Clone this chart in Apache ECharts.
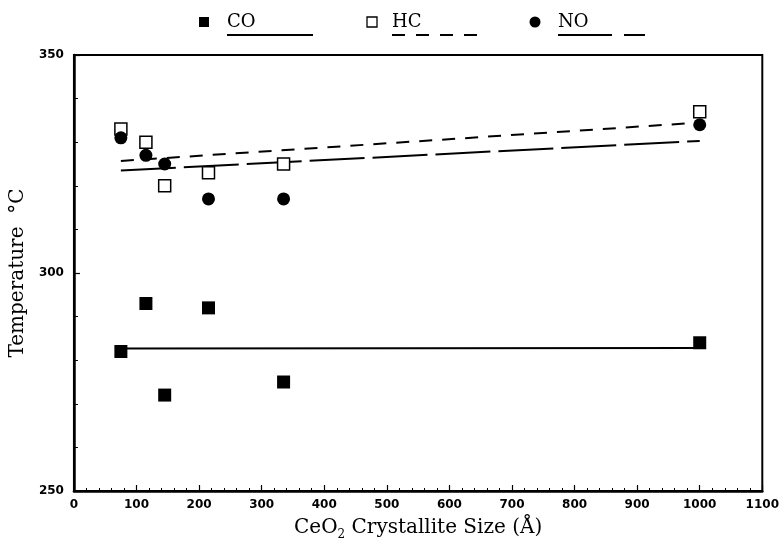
<!DOCTYPE html>
<html>
<head>
<meta charset="utf-8">
<script src="https://cdn.jsdelivr.net/npm/echarts@6/dist/echarts.min.js"></script>
<style>
  html, body { margin: 0; padding: 0; background: #fff; }
  #chart { width: 782px; height: 550px; }
</style>
</head>
<body>
<div id="chart"></div>
<script>
// crystallite sizes (Å)
const sizes = [75, 115, 145, 215, 335, 1000];
// light-off temperatures (°C)
const coTemp = [282, 293, 272, 292, 275, 284];
const hcTemp = [333, 330, 320, 323, 325, 337];
const noTemp = [331, 327, 325, 317, 317, 334];
// fitted lines, read at their ends
const fitX = [75, 1000];
const coFit = [282.7, 282.8];
const hcFit = [325.7, 334.5];
const noFit = [323.5, 330.3];

const pairs = (xs, ys) => xs.map((x, i) => [x, ys[i]]);

let myChart = echarts.init(document.getElementById('chart'));

const serif = '"DejaVu Serif", "Liberation Serif", serif';
const tickFont = { fontFamily: 'DejaVu Sans', fontWeight: 'bold', fontSize: 12, color: '#000', formatter: v => String(v) };

// legend drawn by hand so the label can sit over its line sample
function legendItem(sx, symbol, label, tx, lineEnd, dash) {
  const items = [];
  if (symbol === 'circle') {
    items.push({ type: 'circle', shape: { cx: sx, cy: 22, r: 5.5 }, style: { fill: '#000' } });
  } else {
    items.push({
      type: 'rect', shape: { x: sx - 5, y: 17, width: 10, height: 10 },
      style: symbol === 'filled' ? { fill: '#000' } : { fill: '#fff', stroke: '#000', lineWidth: 1.3 }
    });
  }
  items.push({ type: 'text', x: tx, y: 13, style: { text: label, font: '18px ' + serif, fill: '#000' } });
  items.push({
    type: 'line', shape: { x1: tx, y1: 35, x2: lineEnd, y2: 35 },
    style: { stroke: '#000', lineWidth: 2, lineDash: dash }
  });
  return items;
}

const option = {
  animation: false,
  backgroundColor: '#fff',
  grid: { left: 73, right: 15, top: 55, bottom: 59, show: true, borderColor: '#000', borderWidth: 2 },
  xAxis: {
    type: 'value', min: 0, max: 1100, interval: 100,
    name: 'CeO{sub|2} Crystallite Size (\u00c5)',
    nameLocation: 'middle', nameGap: 24,
    nameTextStyle: {
      fontFamily: serif, fontSize: 20, color: '#000',
      rich: { sub: { fontFamily: serif, fontSize: 12, color: '#000', padding: [14, 0, 0, 0] } }
    },
    axisLine: { show: true, lineStyle: { color: '#000', width: 2.5 } },
    axisTick: { show: true, inside: true, length: 6, lineStyle: { color: '#000', width: 1.2 } },
    minorTick: { show: true, splitNumber: 5, length: 3, lineStyle: { color: '#000', width: 1 } },
    axisLabel: Object.assign({ margin: 8 }, tickFont),
    splitLine: { show: false }
  },
  yAxis: {
    type: 'value', min: 250, max: 350, interval: 50,
    name: 'Temperature  \u00b0C',
    nameLocation: 'middle', nameGap: 37,
    nameTextStyle: { fontFamily: serif, fontSize: 20, color: '#000' },
    axisLine: { show: true, lineStyle: { color: '#000', width: 2.5 } },
    axisTick: { show: true, inside: true, length: 6, lineStyle: { color: '#000', width: 1.2 } },
    minorTick: { show: true, splitNumber: 5, length: 4, lineStyle: { color: '#000', width: 1 } },
    axisLabel: Object.assign({ margin: 10 }, tickFont),
    splitLine: { show: false }
  },
  graphic: [].concat(
    legendItem(204, 'filled', 'CO', 227, 313, null),
    legendItem(372, 'open', 'HC', 392, 480, [13, 11]),
    legendItem(535, 'circle', 'NO', 558, 645, [54, 12])
  ),
  series: [
    {
      name: 'CO fit', type: 'line', data: pairs(fitX, coFit), showSymbol: false, z: 2,
      lineStyle: { color: '#000', width: 2 }
    },
    {
      name: 'HC fit', type: 'line', data: pairs(fitX, hcFit), showSymbol: false, z: 2,
      lineStyle: { color: '#000', width: 2, type: [13, 10] }
    },
    {
      name: 'NO fit', type: 'line', data: pairs(fitX, noFit), showSymbol: false, z: 2,
      lineStyle: { color: '#000', width: 2, type: [55, 8] }
    },
    {
      name: 'CO', type: 'scatter', data: pairs(sizes, coTemp), symbol: 'rect', symbolSize: 13, z: 3,
      itemStyle: { color: '#000', opacity: 1 }
    },
    {
      name: 'HC', type: 'scatter', data: pairs(sizes, hcTemp), symbol: 'rect', symbolSize: 12, z: 3,
      itemStyle: { color: '#fff', borderColor: '#000', borderWidth: 1.5, opacity: 1 }
    },
    {
      name: 'NO', type: 'scatter', data: pairs(sizes, noTemp), symbol: 'circle', symbolSize: 13, z: 4,
      itemStyle: { color: '#000', opacity: 1 }
    }
  ]
};

myChart.setOption(option);
</script>
</body>
</html>
